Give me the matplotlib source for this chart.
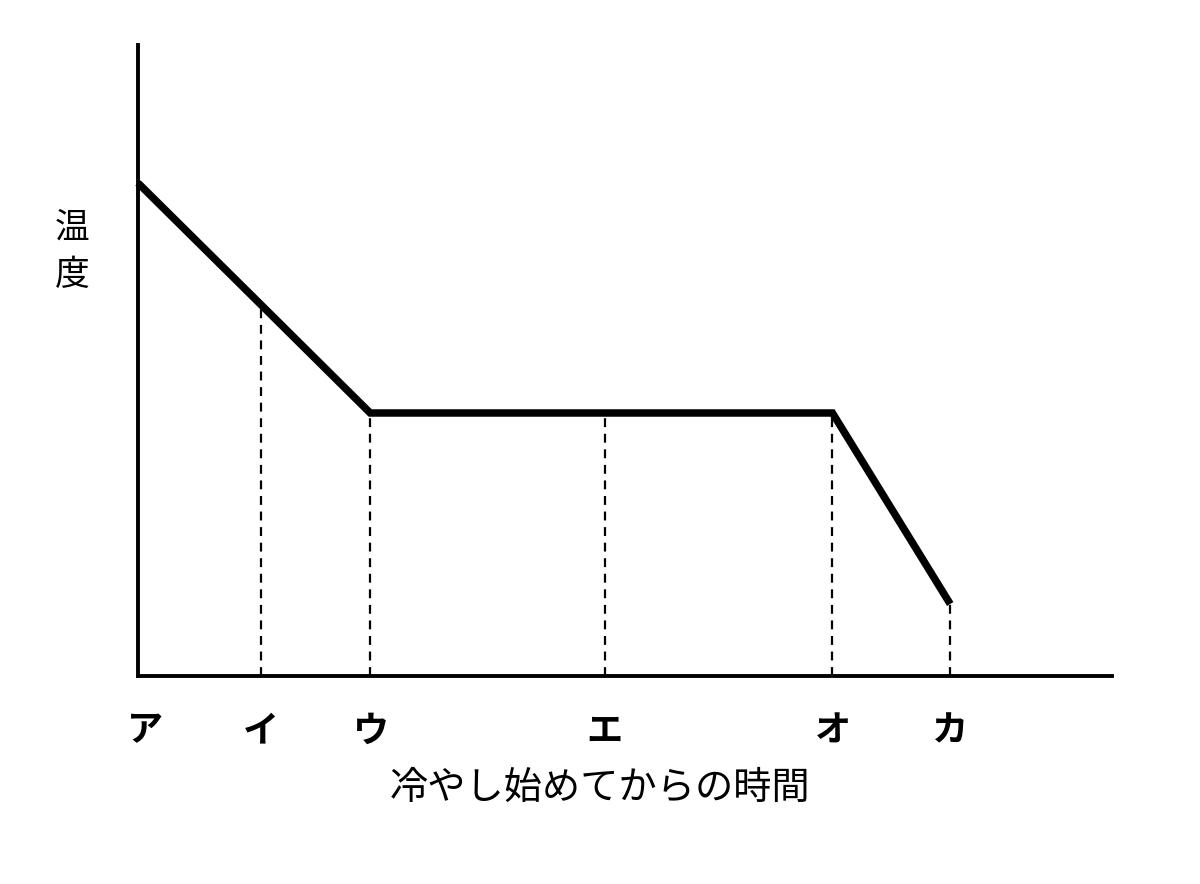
import matplotlib
matplotlib.use("Agg")
import matplotlib.pyplot as plt
import matplotlib.transforms as mtransforms

# Data (arbitrary units)
point_labels = ["ア", "イ", "ウ", "エ", "オ", "カ"]
times = [0.0, 1.12, 2.11, 4.24, 6.31, 7.38]
temps = [49.3, 37.1, 26.3, 26.3, 26.3, 7.2]
x_max = 8.85
y_max = 63.1
xlabel = "冷やし始めてからの時間"
ylabel = "温度"

plt.rcParams['font.family'] = ['Noto Sans CJK JP', 'DejaVu Sans']

fig = plt.figure(figsize=(12, 8.84), dpi=100)
ax = fig.add_axes([138/1200, 1 - 676/884, (1112-138)/1200, (676-45)/884])

ax.set_xlim(0, x_max)
ax.set_ylim(0, y_max)

# dashed guide lines (skip the first point on the axis)
for t, v in zip(times[1:], temps[1:]):
    ax.plot([t, t], [0, v], color="black", lw=1.6, ls=(0, (4, 3)), zorder=2)

ax.plot(times, temps, color="black", lw=5.4, solid_joinstyle="miter",
        solid_capstyle="butt", zorder=3, clip_on=False)

for side in ["top", "right"]:
    ax.spines[side].set_visible(False)
for side in ["left", "bottom"]:
    ax.spines[side].set_linewidth(2.8)
    ax.spines[side].set_color("black")

ax.set_yticks([])
ax.set_xticks([])

trans = mtransforms.blended_transform_factory(ax.transData, fig.transFigure)
for i, (t, lab) in enumerate(zip(times, point_labels)):
    off = mtransforms.ScaledTranslation(7/100 if i == 0 else 0, 0, fig.dpi_scale_trans)
    ax.text(t, 1 - 731/884, lab, fontsize=26, fontweight="bold",
            ha="center", va="center", transform=trans + off, clip_on=False)

fig.text(600/1200, 1 - 788/884, xlabel, fontsize=27.5, ha="center", va="center")
for i, ch in enumerate(ylabel):
    fig.text(72/1200, 1 - (228 + 47*i)/884, ch, fontsize=25, ha="center", va="center")

fig.savefig("out.png", dpi=100, facecolor="white")
